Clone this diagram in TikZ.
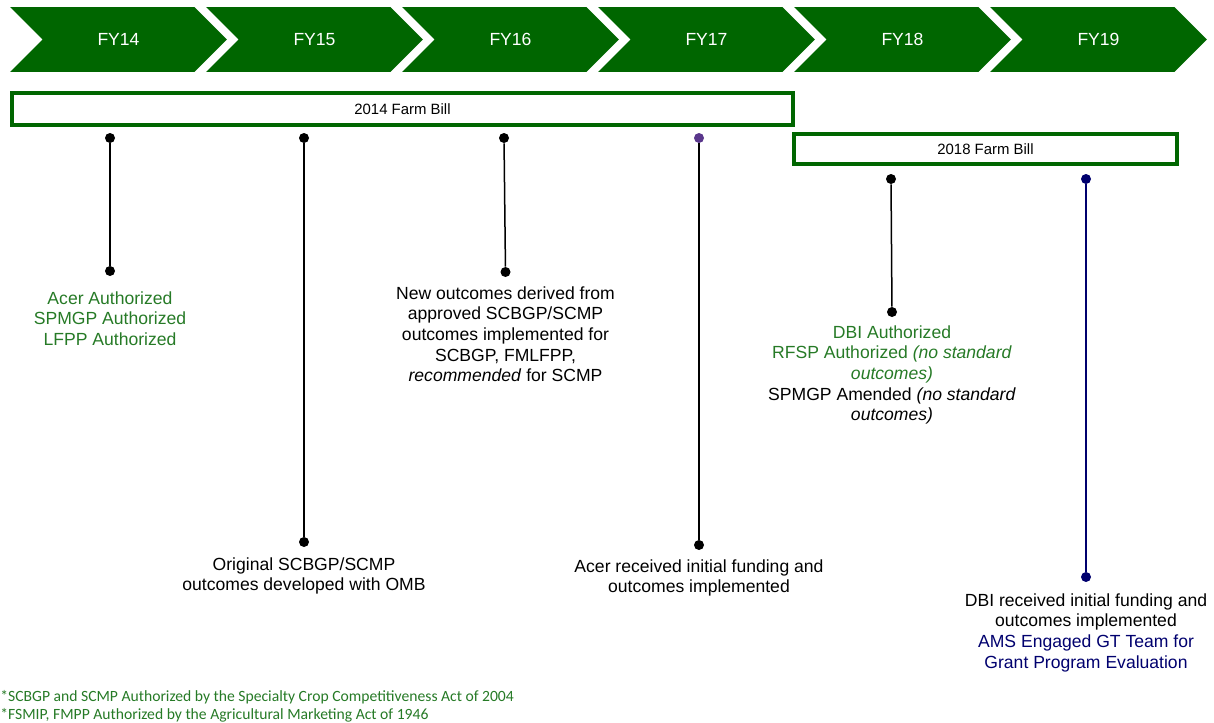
\documentclass[tikz,border=0pt]{standalone}
\usepackage{fontspec}
\setmainfont{Liberation Sans}
\newfontfamily\notefont{Carlito}
\usetikzlibrary{positioning}
\usetikzlibrary{shapes.symbols}
\definecolor{fygreen}{RGB}{0,102,0}
\definecolor{textgreen}{RGB}{38,122,38}
\definecolor{navy}{RGB}{0,0,110}
\definecolor{dotpurple}{RGB}{90,55,140}
\tikzset{
    chevron/.style={
        signal,
        signal from=west,
        signal to=east,
        signal pointer angle=90,
        fill=fygreen,
        text=white,
        minimum width=4.34cm,
        minimum height=1.3cm,
        inner sep=0pt,
        font=\fontsize{10}{12}\selectfont
    },
    billbox/.style={
        rectangle,
        draw=fygreen,
        line width=0.08cm,
        fill=white,
        inner sep=0pt,
        font=\fontsize{8.5}{10}\selectfont
    },
    dot/.style={circle, fill=black, inner sep=0pt, minimum size=0.2cm},
    stem/.style={line width=0.03cm, draw=black},
    event/.style={align=center, inner sep=0pt, font=\fontsize{10}{11.7}\selectfont}
}

\begin{document}
\begin{tikzpicture}[x=0.02cm, y=-0.02cm]
    \useasboundingbox (0,0) rectangle (1214,723);

    % Fiscal years
    \node (fy14) [chevron] at (118.5,39.5) {FY14};
    \node (fy15) [chevron] at (314.5,39.5) {FY15};
    \node (fy16) [chevron] at (510.5,39.5) {FY16};
    \node (fy17) [chevron] at (706.5,39.5) {FY17};
    \node (fy18) [chevron] at (902.5,39.5) {FY18};
    \node (fy19) [chevron] at (1098.5,39.5) {FY19};

    % Farm bills
    \node (bill14) [billbox, minimum width=15.62cm, minimum height=0.64cm] at (402.5,109) {2014 Farm Bill};
    \node (bill18) [billbox, minimum width=7.66cm, minimum height=0.6cm] at (985.5,149) {2018 Farm Bill};

    % Acer authorized
    \node (acer_top) [dot] at (110,138) {};
    \node (acer_bot) [dot] at (110,271) {};
    \node (acer_text) [event, text=textgreen, below=0.3cm of acer_bot] {Acer Authorized\\SPMGP Authorized\\LFPP Authorized};

    % Original outcomes
    \node (omb_top) [dot] at (304,138) {};
    \node (omb_bot) [dot] at (304,542) {};
    \node (omb_text) [event, below=0.2cm of omb_bot] {Original SCBGP/SCMP\\outcomes developed with OMB};

    % New outcomes
    \node (new_top) [dot] at (504,138) {};
    \node (new_bot) [dot] at (505.5,272) {};
    \node (new_text) [event, below=0.18cm of new_bot] {New outcomes derived from\\approved SCBGP/SCMP\\outcomes implemented for\\SCBGP, FMLFPP,\\\textit{recommended} for SCMP};

    % Acer funding
    \node (acerfund_top) [dot, fill=dotpurple] at (699,138) {};
    \node (acerfund_bot) [dot] at (699,545) {};
    \node (acerfund_text) [event, below=0.18cm of acerfund_bot] {Acer received initial funding and\\outcomes implemented};

    % DBI authorized
    \node (dbi_top) [dot] at (891,179) {};
    \node (dbi_bot) [dot] at (892,312) {};
    \node (dbi_text) [event, below=0.16cm of dbi_bot] {\textcolor{textgreen}{DBI Authorized}\\\textcolor{textgreen}{RFSP Authorized \textit{(no standard}}\\\textcolor{textgreen}{\textit{outcomes)}}\\SPMGP Amended \textit{(no standard}\\\textit{outcomes)}};

    % DBI funding
    \node (dbifund_top) [dot, fill=navy] at (1086,179) {};
    \node (dbifund_bot) [dot, fill=navy] at (1086,577) {};
    \node (dbifund_text) [event, below=0.22cm of dbifund_bot] {DBI received initial funding and\\outcomes implemented\\\textcolor{navy}{AMS Engaged GT Team for}\\\textcolor{navy}{Grant Program Evaluation}};

    % Stems
    \draw [stem] (acer_top) -- (acer_bot);
    \draw [stem] (omb_top) -- (omb_bot);
    \draw [stem] (new_top) -- (new_bot);
    \draw [stem] (acerfund_top) -- (acerfund_bot);
    \draw [stem] (dbi_top) -- (dbi_bot);
    \draw [stem, draw=navy] (dbifund_top) -- (dbifund_bot);

    % Footnotes
    \node (note) [anchor=north west, align=left, inner sep=0pt, text=textgreen, font=\notefont\fontsize{8.9}{10.2}\selectfont] at (0,690) {*SCBGP and SCMP Authorized by the Specialty Crop Competitiveness Act of 2004\\*FSMIP, FMPP Authorized by the Agricultural Marketing Act of 1946};
\end{tikzpicture}
\end{document}
